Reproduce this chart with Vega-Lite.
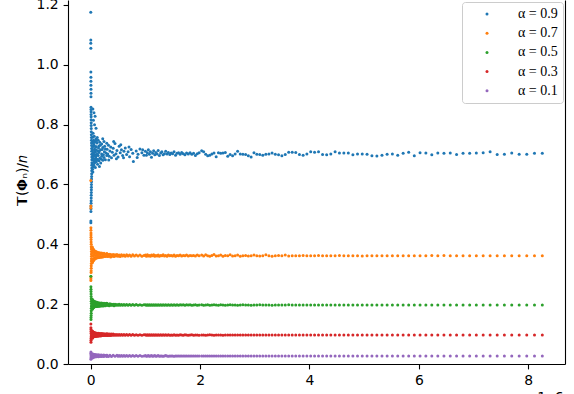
{
"$schema":"https://vega.github.io/schema/vega-lite/v6.json",
"width":497,"height":364,
"autosize":{"type":"none"},
"padding":{"left":68,"top":0,"right":9,"bottom":30},
"background":"white",
"usermeta":{"embedOptions":{"actions":false}},
"config":{"view":{"stroke":null},
"axis":{"domainColor":"black","domainWidth":1.1,"tickColor":"black","tickWidth":1.1,"tickSize":4.9,"labelFont":"DejaVu Sans","labelFontSize":13.9,"labelColor":"black","labelPadding":4.9,"grid":false,"labelFlush":false,"titleFont":"DejaVu Sans","titleFontSize":13.9,"titleColor":"black","titleFontWeight":"normal"}},
"data":{"values":[
{"a":"0.9","x":0.001,"y":1.176},{"a":"0.9","x":0.002,"y":1.083},{"a":"0.9","x":0.002,"y":1.072},{"a":"0.9","x":0.003,"y":1.055},{"a":"0.9","x":0.003,"y":0.976},{"a":"0.9","x":0.004,"y":0.958},{"a":"0.9","x":0.004,"y":0.945},{"a":"0.9","x":0.004,"y":0.932},{"a":"0.9","x":0.005,"y":0.918},{"a":"0.9","x":0.005,"y":0.905},{"a":"0.9","x":0.005,"y":0.893},{"a":"0.9","x":0.006,"y":0.858},{"a":"0.9","x":0.006,"y":0.851},{"a":"0.9","x":0.007,"y":0.843},{"a":"0.9","x":0.007,"y":0.834},{"a":"0.9","x":0.008,"y":0.826},{"a":"0.9","x":0.008,"y":0.816},{"a":"0.9","x":0.009,"y":0.806},{"a":"0.9","x":0.009,"y":0.797},{"a":"0.9","x":0.01,"y":0.787},{"a":"0.9","x":0.011,"y":0.776},{"a":"0.9","x":0.012,"y":0.766},{"a":"0.9","x":0.013,"y":0.757},{"a":"0.9","x":0.014,"y":0.748},{"a":"0.9","x":0.015,"y":0.739},{"a":"0.9","x":0.016,"y":0.73},{"a":"0.9","x":0.017,"y":0.72},{"a":"0.9","x":0.018,"y":0.711},{"a":"0.9","x":0.019,"y":0.701},{"a":"0.9","x":0.02,"y":0.692},{"a":"0.9","x":0.021,"y":0.683},{"a":"0.9","x":0.022,"y":0.673},{"a":"0.9","x":0.021,"y":0.664},{"a":"0.9","x":0.02,"y":0.655},{"a":"0.9","x":0.019,"y":0.646},{"a":"0.9","x":0.018,"y":0.636},{"a":"0.9","x":0.017,"y":0.627},{"a":"0.9","x":0.016,"y":0.618},{"a":"0.9","x":0.015,"y":0.609},{"a":"0.9","x":0.014,"y":0.6},{"a":"0.9","x":0.013,"y":0.591},{"a":"0.9","x":0.012,"y":0.582},{"a":"0.9","x":0.011,"y":0.573},{"a":"0.9","x":0.01,"y":0.564},{"a":"0.9","x":0.009,"y":0.555},{"a":"0.9","x":0.008,"y":0.546},{"a":"0.9","x":0.007,"y":0.537},{"a":"0.9","x":0.006,"y":0.528},{"a":"0.9","x":0.005,"y":0.519},{"a":"0.9","x":0.004,"y":0.51},{"a":"0.9","x":0.003,"y":0.478},{"a":"0.9","x":0.003,"y":0.472},
{"a":"0.9","x":0.04,"y":0.852},{"a":"0.9","x":0.06,"y":0.84},{"a":"0.9","x":0.08,"y":0.828},{"a":"0.9","x":0.05,"y":0.815},{"a":"0.9","x":0.07,"y":0.8},{"a":"0.9","x":0.097,"y":0.788},
{"a":"0.9","x":0.03,"y":0.742},{"a":"0.9","x":0.03,"y":0.668},{"a":"0.9","x":0.033,"y":0.715},{"a":"0.9","x":0.033,"y":0.651},{"a":"0.9","x":0.036,"y":0.758},{"a":"0.9","x":0.036,"y":0.689},{"a":"0.9","x":0.04,"y":0.727},{"a":"0.9","x":0.04,"y":0.642},{"a":"0.9","x":0.044,"y":0.771},{"a":"0.9","x":0.044,"y":0.698},{"a":"0.9","x":0.048,"y":0.706},{"a":"0.9","x":0.048,"y":0.659},{"a":"0.9","x":0.053,"y":0.748},{"a":"0.9","x":0.053,"y":0.681},{"a":"0.9","x":0.058,"y":0.733},{"a":"0.9","x":0.058,"y":0.664},{"a":"0.9","x":0.064,"y":0.761},{"a":"0.9","x":0.064,"y":0.695},{"a":"0.9","x":0.07,"y":0.719},{"a":"0.9","x":0.07,"y":0.672},{"a":"0.9","x":0.077,"y":0.744},{"a":"0.9","x":0.077,"y":0.686},{"a":"0.9","x":0.085,"y":0.708},{"a":"0.9","x":0.085,"y":0.657},{"a":"0.9","x":0.094,"y":0.752},{"a":"0.9","x":0.094,"y":0.693},{"a":"0.9","x":0.103,"y":0.726},{"a":"0.9","x":0.103,"y":0.676},{"a":"0.9","x":0.113,"y":0.739},{"a":"0.9","x":0.113,"y":0.684},{"a":"0.9","x":0.125,"y":0.712},{"a":"0.9","x":0.125,"y":0.668},{"a":"0.9","x":0.137,"y":0.748},{"a":"0.9","x":0.137,"y":0.697},{"a":"0.9","x":0.151,"y":0.729},{"a":"0.9","x":0.151,"y":0.679},{"a":"0.9","x":0.166,"y":0.741},{"a":"0.9","x":0.166,"y":0.688},{"a":"0.9","x":0.183,"y":0.716},{"a":"0.9","x":0.183,"y":0.672},{"a":"0.9","x":0.201,"y":0.735},{"a":"0.9","x":0.201,"y":0.694},{"a":"0.9","x":0.221,"y":0.724},{"a":"0.9","x":0.221,"y":0.681},{"a":"0.9","x":0.243,"y":0.744},{"a":"0.9","x":0.243,"y":0.69},{"a":"0.9","x":0.268,"y":0.719},{"a":"0.9","x":0.268,"y":0.683},{"a":"0.9","x":0.294,"y":0.738},{"a":"0.9","x":0.294,"y":0.697},
{"a":"0.9","x":0.04,"y":0.701},{"a":"0.9","x":0.07,"y":0.712},{"a":"0.9","x":0.1,"y":0.699},{"a":"0.9","x":0.15,"y":0.707},{"a":"0.9","x":0.2,"y":0.702},{"a":"0.9","x":0.25,"y":0.709},{"a":"0.9","x":0.12,"y":0.757},{"a":"0.9","x":0.16,"y":0.66},{"a":"0.9","x":0.22,"y":0.753},
{"a":"0.9","x":0.035,"y":0.728},{"a":"0.9","x":0.042,"y":0.684},{"a":"0.9","x":0.047,"y":0.739},{"a":"0.9","x":0.055,"y":0.702},{"a":"0.9","x":0.062,"y":0.676},{"a":"0.9","x":0.067,"y":0.741},{"a":"0.9","x":0.074,"y":0.697},{"a":"0.9","x":0.082,"y":0.727},{"a":"0.9","x":0.09,"y":0.679},{"a":"0.9","x":0.098,"y":0.716},{"a":"0.9","x":0.108,"y":0.747},{"a":"0.9","x":0.118,"y":0.701},{"a":"0.9","x":0.13,"y":0.683},{"a":"0.9","x":0.143,"y":0.722},{"a":"0.9","x":0.158,"y":0.712},{"a":"0.9","x":0.175,"y":0.731},{"a":"0.9","x":0.192,"y":0.685},{"a":"0.9","x":0.21,"y":0.717},{"a":"0.9","x":0.232,"y":0.699},{"a":"0.9","x":0.255,"y":0.728},{"a":"0.9","x":0.28,"y":0.705},
{"a":"0.9","x":0.3,"y":0.718},{"a":"0.9","x":0.312,"y":0.702},{"a":"0.9","x":0.325,"y":0.731},{"a":"0.9","x":0.338,"y":0.694},{"a":"0.9","x":0.351,"y":0.712},{"a":"0.9","x":0.365,"y":0.725},{"a":"0.9","x":0.38,"y":0.689},{"a":"0.9","x":0.395,"y":0.708},{"a":"0.9","x":0.411,"y":0.721},{"a":"0.9","x":0.427,"y":0.698},{"a":"0.9","x":0.444,"y":0.737},{"a":"0.9","x":0.462,"y":0.703},{"a":"0.9","x":0.48,"y":0.714},{"a":"0.9","x":0.5,"y":0.692},{"a":"0.9","x":0.52,"y":0.728},{"a":"0.9","x":0.54,"y":0.706},{"a":"0.9","x":0.562,"y":0.716},{"a":"0.9","x":0.584,"y":0.697},{"a":"0.9","x":0.608,"y":0.711},{"a":"0.9","x":0.632,"y":0.722},{"a":"0.9","x":0.657,"y":0.7},{"a":"0.9","x":0.684,"y":0.709},{"a":"0.9","x":0.711,"y":0.693},{"a":"0.9","x":0.739,"y":0.717},{"a":"0.9","x":0.769,"y":0.704},{"a":"0.9","x":0.78,"y":0.677},{"a":"0.9","x":0.832,"y":0.712},{"a":"0.9","x":0.865,"y":0.701},{"a":"0.9","x":0.9,"y":0.719},{"a":"0.9","x":0.936,"y":0.706},{"a":"0.9","x":0.973,"y":0.698},
{"a":"0.9","x":0.33,"y":0.682},{"a":"0.9","x":0.42,"y":0.744},{"a":"0.9","x":0.47,"y":0.686},{"a":"0.9","x":0.55,"y":0.733},{"a":"0.9","x":0.6,"y":0.689},{"a":"0.9","x":0.7,"y":0.725},{"a":"0.9","x":0.85,"y":0.69},{"a":"0.9","x":0.95,"y":0.716},
{"a":"0.9","x":1.0,"y":0.711},{"a":"0.9","x":1.018,"y":0.698},{"a":"0.9","x":1.036,"y":0.706},{"a":"0.9","x":1.054,"y":0.716},{"a":"0.9","x":1.073,"y":0.701},{"a":"0.9","x":1.092,"y":0.709},{"a":"0.9","x":1.111,"y":0.691},{"a":"0.9","x":1.131,"y":0.704},{"a":"0.9","x":1.151,"y":0.713},{"a":"0.9","x":1.171,"y":0.699},{"a":"0.9","x":1.192,"y":0.707},{"a":"0.9","x":1.213,"y":0.702},{"a":"0.9","x":1.234,"y":0.714},{"a":"0.9","x":1.256,"y":0.697},{"a":"0.9","x":1.279,"y":0.705},{"a":"0.9","x":1.301,"y":0.709},{"a":"0.9","x":1.324,"y":0.699},{"a":"0.9","x":1.348,"y":0.703},{"a":"0.9","x":1.371,"y":0.711},{"a":"0.9","x":1.396,"y":0.702},{"a":"0.9","x":1.42,"y":0.707},{"a":"0.9","x":1.446,"y":0.7},{"a":"0.9","x":1.471,"y":0.705},{"a":"0.9","x":1.497,"y":0.703},{"a":"0.9","x":1.524,"y":0.709},{"a":"0.9","x":1.551,"y":0.698},{"a":"0.9","x":1.578,"y":0.704},{"a":"0.9","x":1.606,"y":0.706},{"a":"0.9","x":1.635,"y":0.701},{"a":"0.9","x":1.663,"y":0.707},{"a":"0.9","x":1.693,"y":0.703},{"a":"0.9","x":1.723,"y":0.699},{"a":"0.9","x":1.753,"y":0.705},{"a":"0.9","x":1.784,"y":0.702},{"a":"0.9","x":1.816,"y":0.706},{"a":"0.9","x":1.848,"y":0.701},{"a":"0.9","x":1.881,"y":0.704},{"a":"0.9","x":1.914,"y":0.697},{"a":"0.9","x":1.948,"y":0.703},{"a":"0.9","x":1.982,"y":0.706},
{"a":"0.9","x":2.029,"y":0.713},{"a":"0.9","x":2.065,"y":0.709},{"a":"0.9","x":2.102,"y":0.701},{"a":"0.9","x":2.139,"y":0.696},{"a":"0.9","x":2.177,"y":0.698},{"a":"0.9","x":2.215,"y":0.702},{"a":"0.9","x":2.254,"y":0.705},{"a":"0.9","x":2.294,"y":0.693},{"a":"0.9","x":2.335,"y":0.706},{"a":"0.9","x":2.376,"y":0.704},{"a":"0.9","x":2.418,"y":0.705},{"a":"0.9","x":2.461,"y":0.707},{"a":"0.9","x":2.505,"y":0.694},{"a":"0.9","x":2.549,"y":0.7},{"a":"0.9","x":2.594,"y":0.696},{"a":"0.9","x":2.64,"y":0.702},{"a":"0.9","x":2.686,"y":0.711},{"a":"0.9","x":2.734,"y":0.702},{"a":"0.9","x":2.782,"y":0.701},{"a":"0.9","x":2.832,"y":0.7},{"a":"0.9","x":2.882,"y":0.696},{"a":"0.9","x":2.933,"y":0.692},{"a":"0.9","x":2.985,"y":0.706},{"a":"0.9","x":3.037,"y":0.701},{"a":"0.9","x":3.091,"y":0.7},{"a":"0.9","x":3.146,"y":0.698},{"a":"0.9","x":3.202,"y":0.701},{"a":"0.9","x":3.258,"y":0.702},{"a":"0.9","x":3.316,"y":0.705},{"a":"0.9","x":3.375,"y":0.701},{"a":"0.9","x":3.434,"y":0.699},{"a":"0.9","x":3.495,"y":0.696},{"a":"0.9","x":3.557,"y":0.7},{"a":"0.9","x":3.62,"y":0.708},{"a":"0.9","x":3.684,"y":0.708},{"a":"0.9","x":3.749,"y":0.707},{"a":"0.9","x":3.816,"y":0.7},{"a":"0.9","x":3.883,"y":0.698},{"a":"0.9","x":3.952,"y":0.702},{"a":"0.9","x":4.022,"y":0.709},{"a":"0.9","x":4.093,"y":0.708},{"a":"0.9","x":4.165,"y":0.709},{"a":"0.9","x":4.239,"y":0.7},{"a":"0.9","x":4.314,"y":0.699},{"a":"0.9","x":4.39,"y":0.702},{"a":"0.9","x":4.468,"y":0.709},{"a":"0.9","x":4.547,"y":0.705},{"a":"0.9","x":4.628,"y":0.705},{"a":"0.9","x":4.71,"y":0.705},{"a":"0.9","x":4.793,"y":0.699},{"a":"0.9","x":4.878,"y":0.702},{"a":"0.9","x":4.964,"y":0.702},{"a":"0.9","x":5.052,"y":0.701},{"a":"0.9","x":5.141,"y":0.696},{"a":"0.9","x":5.232,"y":0.695},{"a":"0.9","x":5.325,"y":0.698},{"a":"0.9","x":5.419,"y":0.701},{"a":"0.9","x":5.515,"y":0.702},{"a":"0.9","x":5.613,"y":0.698},{"a":"0.9","x":5.712,"y":0.704},{"a":"0.9","x":5.813,"y":0.708},{"a":"0.9","x":5.916,"y":0.696},{"a":"0.9","x":6.021,"y":0.706},{"a":"0.9","x":6.127,"y":0.705},{"a":"0.9","x":6.236,"y":0.699},{"a":"0.9","x":6.346,"y":0.705},{"a":"0.9","x":6.458,"y":0.704},{"a":"0.9","x":6.573,"y":0.705},{"a":"0.9","x":6.689,"y":0.7},{"a":"0.9","x":6.807,"y":0.704},{"a":"0.9","x":6.928,"y":0.704},{"a":"0.9","x":7.05,"y":0.705},{"a":"0.9","x":7.175,"y":0.706},{"a":"0.9","x":7.302,"y":0.709},{"a":"0.9","x":7.431,"y":0.7},{"a":"0.9","x":7.563,"y":0.701},{"a":"0.9","x":7.697,"y":0.705},{"a":"0.9","x":7.833,"y":0.701},{"a":"0.9","x":7.972,"y":0.701},{"a":"0.9","x":8.113,"y":0.704},{"a":"0.9","x":8.256,"y":0.704},

{"a":"0.7","x":0.002,"y":0.613},{"a":"0.7","x":0.003,"y":0.528},{"a":"0.7","x":0.003,"y":0.521},{"a":"0.7","x":0.004,"y":0.455},{"a":"0.7","x":0.004,"y":0.447},{"a":"0.7","x":0.005,"y":0.438},{"a":"0.7","x":0.005,"y":0.431},{"a":"0.7","x":0.006,"y":0.424},{"a":"0.7","x":0.007,"y":0.416},{"a":"0.7","x":0.008,"y":0.408},{"a":"0.7","x":0.009,"y":0.4},{"a":"0.7","x":0.01,"y":0.392},{"a":"0.7","x":0.011,"y":0.384},{"a":"0.7","x":0.012,"y":0.376},{"a":"0.7","x":0.013,"y":0.368},{"a":"0.7","x":0.014,"y":0.36},{"a":"0.7","x":0.013,"y":0.352},{"a":"0.7","x":0.012,"y":0.344},{"a":"0.7","x":0.011,"y":0.336},{"a":"0.7","x":0.01,"y":0.328},{"a":"0.7","x":0.009,"y":0.32},{"a":"0.7","x":0.008,"y":0.312},{"a":"0.7","x":0.007,"y":0.306},{"a":"0.7","x":0.005,"y":0.292},{"a":"0.7","x":0.004,"y":0.285},{"a":"0.7","x":0.003,"y":0.279},
{"a":"0.7","x":0.03,"y":0.391},{"a":"0.7","x":0.03,"y":0.338},{"a":"0.7","x":0.033,"y":0.372},{"a":"0.7","x":0.033,"y":0.349},{"a":"0.7","x":0.036,"y":0.386},{"a":"0.7","x":0.036,"y":0.342},{"a":"0.7","x":0.04,"y":0.378},{"a":"0.7","x":0.04,"y":0.346},{"a":"0.7","x":0.044,"y":0.384},{"a":"0.7","x":0.044,"y":0.352},{"a":"0.7","x":0.048,"y":0.374},{"a":"0.7","x":0.048,"y":0.345},{"a":"0.7","x":0.053,"y":0.381},{"a":"0.7","x":0.053,"y":0.35},{"a":"0.7","x":0.058,"y":0.376},{"a":"0.7","x":0.058,"y":0.348},{"a":"0.7","x":0.064,"y":0.379},{"a":"0.7","x":0.064,"y":0.353},{"a":"0.7","x":0.07,"y":0.373},{"a":"0.7","x":0.07,"y":0.351},{"a":"0.7","x":0.077,"y":0.377},{"a":"0.7","x":0.077,"y":0.354},{"a":"0.7","x":0.085,"y":0.372},{"a":"0.7","x":0.085,"y":0.352},{"a":"0.7","x":0.094,"y":0.376},{"a":"0.7","x":0.094,"y":0.355},{"a":"0.7","x":0.103,"y":0.371},{"a":"0.7","x":0.103,"y":0.354},{"a":"0.7","x":0.113,"y":0.374},{"a":"0.7","x":0.113,"y":0.356},{"a":"0.7","x":0.125,"y":0.37},{"a":"0.7","x":0.125,"y":0.355},{"a":"0.7","x":0.137,"y":0.373},{"a":"0.7","x":0.137,"y":0.357},{"a":"0.7","x":0.151,"y":0.369},{"a":"0.7","x":0.151,"y":0.356},{"a":"0.7","x":0.166,"y":0.372},{"a":"0.7","x":0.166,"y":0.358},{"a":"0.7","x":0.183,"y":0.369},{"a":"0.7","x":0.183,"y":0.357},{"a":"0.7","x":0.201,"y":0.371},{"a":"0.7","x":0.201,"y":0.358},{"a":"0.7","x":0.221,"y":0.368},{"a":"0.7","x":0.221,"y":0.358},{"a":"0.7","x":0.243,"y":0.37},{"a":"0.7","x":0.243,"y":0.359},{"a":"0.7","x":0.268,"y":0.367},{"a":"0.7","x":0.268,"y":0.359},{"a":"0.7","x":0.294,"y":0.369},{"a":"0.7","x":0.294,"y":0.36},
{"a":"0.7","x":0.04,"y":0.362},{"a":"0.7","x":0.06,"y":0.365},{"a":"0.7","x":0.08,"y":0.363},{"a":"0.7","x":0.11,"y":0.364},{"a":"0.7","x":0.14,"y":0.363},{"a":"0.7","x":0.18,"y":0.364},{"a":"0.7","x":0.23,"y":0.363},
{"a":"0.7","x":0.3,"y":0.368},{"a":"0.7","x":0.312,"y":0.359},{"a":"0.7","x":0.325,"y":0.366},{"a":"0.7","x":0.338,"y":0.36},{"a":"0.7","x":0.351,"y":0.367},{"a":"0.7","x":0.365,"y":0.358},{"a":"0.7","x":0.38,"y":0.365},{"a":"0.7","x":0.395,"y":0.36},{"a":"0.7","x":0.411,"y":0.366},{"a":"0.7","x":0.427,"y":0.359},{"a":"0.7","x":0.444,"y":0.365},{"a":"0.7","x":0.462,"y":0.361},{"a":"0.7","x":0.48,"y":0.366},{"a":"0.7","x":0.5,"y":0.36},{"a":"0.7","x":0.52,"y":0.364},{"a":"0.7","x":0.54,"y":0.359},{"a":"0.7","x":0.562,"y":0.365},{"a":"0.7","x":0.584,"y":0.361},{"a":"0.7","x":0.608,"y":0.364},{"a":"0.7","x":0.632,"y":0.36},{"a":"0.7","x":0.657,"y":0.365},{"a":"0.7","x":0.684,"y":0.361},{"a":"0.7","x":0.711,"y":0.364},{"a":"0.7","x":0.739,"y":0.36},{"a":"0.7","x":0.769,"y":0.365},{"a":"0.7","x":0.8,"y":0.361},{"a":"0.7","x":0.832,"y":0.364},{"a":"0.7","x":0.865,"y":0.361},{"a":"0.7","x":0.9,"y":0.364},{"a":"0.7","x":0.936,"y":0.36},{"a":"0.7","x":0.973,"y":0.363},
{"a":"0.7","x":1.0,"y":0.364},{"a":"0.7","x":1.018,"y":0.36},{"a":"0.7","x":1.036,"y":0.365},{"a":"0.7","x":1.054,"y":0.361},{"a":"0.7","x":1.073,"y":0.363},{"a":"0.7","x":1.092,"y":0.36},{"a":"0.7","x":1.111,"y":0.364},{"a":"0.7","x":1.131,"y":0.362},{"a":"0.7","x":1.151,"y":0.365},{"a":"0.7","x":1.171,"y":0.36},{"a":"0.7","x":1.192,"y":0.363},{"a":"0.7","x":1.213,"y":0.361},{"a":"0.7","x":1.234,"y":0.364},{"a":"0.7","x":1.256,"y":0.36},{"a":"0.7","x":1.279,"y":0.363},{"a":"0.7","x":1.301,"y":0.362},{"a":"0.7","x":1.324,"y":0.365},{"a":"0.7","x":1.348,"y":0.361},{"a":"0.7","x":1.371,"y":0.363},{"a":"0.7","x":1.396,"y":0.36},{"a":"0.7","x":1.42,"y":0.364},{"a":"0.7","x":1.446,"y":0.362},{"a":"0.7","x":1.471,"y":0.363},{"a":"0.7","x":1.497,"y":0.361},{"a":"0.7","x":1.524,"y":0.364},{"a":"0.7","x":1.551,"y":0.36},{"a":"0.7","x":1.578,"y":0.363},{"a":"0.7","x":1.606,"y":0.362},{"a":"0.7","x":1.635,"y":0.364},{"a":"0.7","x":1.663,"y":0.361},{"a":"0.7","x":1.693,"y":0.363},{"a":"0.7","x":1.723,"y":0.362},{"a":"0.7","x":1.753,"y":0.364},{"a":"0.7","x":1.784,"y":0.361},{"a":"0.7","x":1.816,"y":0.363},{"a":"0.7","x":1.848,"y":0.362},{"a":"0.7","x":1.881,"y":0.363},{"a":"0.7","x":1.914,"y":0.361},{"a":"0.7","x":1.948,"y":0.364},{"a":"0.7","x":1.982,"y":0.362},
{"a":"0.7","x":2.029,"y":0.364},{"a":"0.7","x":2.065,"y":0.361},{"a":"0.7","x":2.102,"y":0.365},{"a":"0.7","x":2.139,"y":0.362},{"a":"0.7","x":2.177,"y":0.36},{"a":"0.7","x":2.215,"y":0.363},{"a":"0.7","x":2.254,"y":0.366},{"a":"0.7","x":2.294,"y":0.361},{"a":"0.7","x":2.335,"y":0.362},{"a":"0.7","x":2.376,"y":0.364},{"a":"0.7","x":2.418,"y":0.36},{"a":"0.7","x":2.461,"y":0.363},{"a":"0.7","x":2.505,"y":0.362},{"a":"0.7","x":2.549,"y":0.365},{"a":"0.7","x":2.594,"y":0.361},{"a":"0.7","x":2.64,"y":0.362},{"a":"0.7","x":2.686,"y":0.364},{"a":"0.7","x":2.734,"y":0.36},{"a":"0.7","x":2.782,"y":0.362},{"a":"0.7","x":2.832,"y":0.363},{"a":"0.7","x":2.882,"y":0.361},{"a":"0.7","x":2.933,"y":0.362},{"a":"0.7","x":2.985,"y":0.364},{"a":"0.7","x":3.037,"y":0.362},{"a":"0.7","x":3.091,"y":0.361},{"a":"0.7","x":3.146,"y":0.362},{"a":"0.7","x":3.202,"y":0.365},{"a":"0.7","x":3.258,"y":0.362},{"a":"0.7","x":3.316,"y":0.36},{"a":"0.7","x":3.375,"y":0.362},{"a":"0.7","x":3.434,"y":0.363},{"a":"0.7","x":3.495,"y":0.362},{"a":"0.7","x":3.557,"y":0.364},{"a":"0.7","x":3.62,"y":0.361},{"a":"0.7","x":3.684,"y":0.362},{"a":"0.7","x":3.749,"y":0.362},{"a":"0.7","x":3.816,"y":0.362},{"a":"0.7","x":3.883,"y":0.363},{"a":"0.7","x":3.952,"y":0.362},{"a":"0.7","x":4.022,"y":0.362},{"a":"0.7","x":4.093,"y":0.362},{"a":"0.7","x":4.165,"y":0.363},{"a":"0.7","x":4.239,"y":0.362},{"a":"0.7","x":4.314,"y":0.362},{"a":"0.7","x":4.39,"y":0.362},{"a":"0.7","x":4.468,"y":0.362},{"a":"0.7","x":4.547,"y":0.363},{"a":"0.7","x":4.628,"y":0.362},{"a":"0.7","x":4.71,"y":0.362},{"a":"0.7","x":4.793,"y":0.362},{"a":"0.7","x":4.878,"y":0.362},{"a":"0.7","x":4.964,"y":0.361},{"a":"0.7","x":5.052,"y":0.362},{"a":"0.7","x":5.141,"y":0.362},{"a":"0.7","x":5.232,"y":0.362},{"a":"0.7","x":5.325,"y":0.362},{"a":"0.7","x":5.419,"y":0.362},{"a":"0.7","x":5.515,"y":0.362},{"a":"0.7","x":5.613,"y":0.362},{"a":"0.7","x":5.712,"y":0.362},{"a":"0.7","x":5.813,"y":0.362},{"a":"0.7","x":5.916,"y":0.362},{"a":"0.7","x":6.021,"y":0.362},{"a":"0.7","x":6.127,"y":0.362},{"a":"0.7","x":6.236,"y":0.363},{"a":"0.7","x":6.346,"y":0.362},{"a":"0.7","x":6.458,"y":0.363},{"a":"0.7","x":6.573,"y":0.362},{"a":"0.7","x":6.689,"y":0.362},{"a":"0.7","x":6.807,"y":0.362},{"a":"0.7","x":6.928,"y":0.362},{"a":"0.7","x":7.05,"y":0.362},{"a":"0.7","x":7.175,"y":0.362},{"a":"0.7","x":7.302,"y":0.362},{"a":"0.7","x":7.431,"y":0.362},{"a":"0.7","x":7.563,"y":0.362},{"a":"0.7","x":7.697,"y":0.362},{"a":"0.7","x":7.833,"y":0.362},{"a":"0.7","x":7.972,"y":0.362},{"a":"0.7","x":8.113,"y":0.362},{"a":"0.7","x":8.256,"y":0.362},

{"a":"0.5","x":0.003,"y":0.293},{"a":"0.5","x":0.004,"y":0.258},{"a":"0.5","x":0.005,"y":0.25},{"a":"0.5","x":0.006,"y":0.242},{"a":"0.5","x":0.007,"y":0.234},{"a":"0.5","x":0.008,"y":0.226},{"a":"0.5","x":0.009,"y":0.218},{"a":"0.5","x":0.01,"y":0.21},{"a":"0.5","x":0.011,"y":0.202},{"a":"0.5","x":0.012,"y":0.194},{"a":"0.5","x":0.011,"y":0.186},{"a":"0.5","x":0.01,"y":0.178},{"a":"0.5","x":0.009,"y":0.17},{"a":"0.5","x":0.008,"y":0.162},{"a":"0.5","x":0.006,"y":0.155},{"a":"0.5","x":0.005,"y":0.149},
{"a":"0.5","x":0.03,"y":0.216},{"a":"0.5","x":0.03,"y":0.183},{"a":"0.5","x":0.033,"y":0.207},{"a":"0.5","x":0.033,"y":0.189},{"a":"0.5","x":0.036,"y":0.213},{"a":"0.5","x":0.036,"y":0.186},{"a":"0.5","x":0.04,"y":0.209},{"a":"0.5","x":0.04,"y":0.19},{"a":"0.5","x":0.044,"y":0.212},{"a":"0.5","x":0.044,"y":0.188},{"a":"0.5","x":0.048,"y":0.206},{"a":"0.5","x":0.048,"y":0.19},{"a":"0.5","x":0.053,"y":0.21},{"a":"0.5","x":0.053,"y":0.191},{"a":"0.5","x":0.058,"y":0.207},{"a":"0.5","x":0.058,"y":0.19},{"a":"0.5","x":0.064,"y":0.209},{"a":"0.5","x":0.064,"y":0.192},{"a":"0.5","x":0.07,"y":0.206},{"a":"0.5","x":0.07,"y":0.191},{"a":"0.5","x":0.077,"y":0.208},{"a":"0.5","x":0.077,"y":0.192},{"a":"0.5","x":0.085,"y":0.205},{"a":"0.5","x":0.085,"y":0.192},{"a":"0.5","x":0.094,"y":0.207},{"a":"0.5","x":0.094,"y":0.193},{"a":"0.5","x":0.103,"y":0.204},{"a":"0.5","x":0.103,"y":0.192},{"a":"0.5","x":0.113,"y":0.206},{"a":"0.5","x":0.113,"y":0.193},{"a":"0.5","x":0.125,"y":0.204},{"a":"0.5","x":0.125,"y":0.193},{"a":"0.5","x":0.137,"y":0.205},{"a":"0.5","x":0.137,"y":0.194},{"a":"0.5","x":0.151,"y":0.203},{"a":"0.5","x":0.151,"y":0.193},{"a":"0.5","x":0.166,"y":0.204},{"a":"0.5","x":0.166,"y":0.194},{"a":"0.5","x":0.183,"y":0.203},{"a":"0.5","x":0.183,"y":0.194},{"a":"0.5","x":0.201,"y":0.204},{"a":"0.5","x":0.201,"y":0.195},{"a":"0.5","x":0.221,"y":0.202},{"a":"0.5","x":0.221,"y":0.194},{"a":"0.5","x":0.243,"y":0.203},{"a":"0.5","x":0.243,"y":0.195},{"a":"0.5","x":0.268,"y":0.202},{"a":"0.5","x":0.268,"y":0.195},{"a":"0.5","x":0.294,"y":0.203},{"a":"0.5","x":0.294,"y":0.196},
{"a":"0.5","x":0.04,"y":0.199},{"a":"0.5","x":0.06,"y":0.198},{"a":"0.5","x":0.08,"y":0.2},{"a":"0.5","x":0.11,"y":0.198},{"a":"0.5","x":0.14,"y":0.199},{"a":"0.5","x":0.18,"y":0.198},{"a":"0.5","x":0.23,"y":0.199},
{"a":"0.5","x":0.3,"y":0.201},{"a":"0.5","x":0.312,"y":0.196},{"a":"0.5","x":0.325,"y":0.2},{"a":"0.5","x":0.338,"y":0.195},{"a":"0.5","x":0.351,"y":0.201},{"a":"0.5","x":0.365,"y":0.196},{"a":"0.5","x":0.38,"y":0.2},{"a":"0.5","x":0.395,"y":0.196},{"a":"0.5","x":0.411,"y":0.2},{"a":"0.5","x":0.427,"y":0.195},{"a":"0.5","x":0.444,"y":0.2},{"a":"0.5","x":0.462,"y":0.196},{"a":"0.5","x":0.48,"y":0.199},{"a":"0.5","x":0.5,"y":0.196},{"a":"0.5","x":0.52,"y":0.2},{"a":"0.5","x":0.54,"y":0.196},{"a":"0.5","x":0.562,"y":0.199},{"a":"0.5","x":0.584,"y":0.196},{"a":"0.5","x":0.608,"y":0.199},{"a":"0.5","x":0.632,"y":0.196},{"a":"0.5","x":0.657,"y":0.199},{"a":"0.5","x":0.684,"y":0.196},{"a":"0.5","x":0.711,"y":0.199},{"a":"0.5","x":0.739,"y":0.196},{"a":"0.5","x":0.769,"y":0.199},{"a":"0.5","x":0.8,"y":0.196},{"a":"0.5","x":0.832,"y":0.199},{"a":"0.5","x":0.865,"y":0.196},{"a":"0.5","x":0.9,"y":0.198},{"a":"0.5","x":0.936,"y":0.196},{"a":"0.5","x":0.973,"y":0.198},
{"a":"0.5","x":1.0,"y":0.198},{"a":"0.5","x":1.018,"y":0.196},{"a":"0.5","x":1.036,"y":0.198},{"a":"0.5","x":1.054,"y":0.196},{"a":"0.5","x":1.073,"y":0.198},{"a":"0.5","x":1.092,"y":0.196},{"a":"0.5","x":1.111,"y":0.198},{"a":"0.5","x":1.131,"y":0.196},{"a":"0.5","x":1.151,"y":0.198},{"a":"0.5","x":1.171,"y":0.196},{"a":"0.5","x":1.192,"y":0.198},{"a":"0.5","x":1.213,"y":0.196},{"a":"0.5","x":1.234,"y":0.198},{"a":"0.5","x":1.256,"y":0.196},{"a":"0.5","x":1.279,"y":0.198},{"a":"0.5","x":1.301,"y":0.196},{"a":"0.5","x":1.324,"y":0.198},{"a":"0.5","x":1.348,"y":0.196},{"a":"0.5","x":1.371,"y":0.198},{"a":"0.5","x":1.396,"y":0.196},{"a":"0.5","x":1.42,"y":0.198},{"a":"0.5","x":1.446,"y":0.196},{"a":"0.5","x":1.471,"y":0.198},{"a":"0.5","x":1.497,"y":0.196},{"a":"0.5","x":1.524,"y":0.198},{"a":"0.5","x":1.551,"y":0.196},{"a":"0.5","x":1.578,"y":0.198},{"a":"0.5","x":1.606,"y":0.196},{"a":"0.5","x":1.635,"y":0.198},{"a":"0.5","x":1.663,"y":0.197},{"a":"0.5","x":1.693,"y":0.198},{"a":"0.5","x":1.723,"y":0.196},{"a":"0.5","x":1.753,"y":0.198},{"a":"0.5","x":1.784,"y":0.197},{"a":"0.5","x":1.816,"y":0.198},{"a":"0.5","x":1.848,"y":0.196},{"a":"0.5","x":1.881,"y":0.197},{"a":"0.5","x":1.914,"y":0.198},{"a":"0.5","x":1.948,"y":0.196},{"a":"0.5","x":1.982,"y":0.197},
{"a":"0.5","x":2.029,"y":0.198},{"a":"0.5","x":2.065,"y":0.196},{"a":"0.5","x":2.102,"y":0.197},{"a":"0.5","x":2.139,"y":0.198},{"a":"0.5","x":2.177,"y":0.196},{"a":"0.5","x":2.215,"y":0.197},{"a":"0.5","x":2.254,"y":0.198},{"a":"0.5","x":2.294,"y":0.197},{"a":"0.5","x":2.335,"y":0.196},{"a":"0.5","x":2.376,"y":0.198},{"a":"0.5","x":2.418,"y":0.197},{"a":"0.5","x":2.461,"y":0.196},{"a":"0.5","x":2.505,"y":0.197},{"a":"0.5","x":2.549,"y":0.198},{"a":"0.5","x":2.594,"y":0.197},{"a":"0.5","x":2.64,"y":0.197},{"a":"0.5","x":2.686,"y":0.196},{"a":"0.5","x":2.734,"y":0.197},{"a":"0.5","x":2.782,"y":0.198},{"a":"0.5","x":2.832,"y":0.197},{"a":"0.5","x":2.882,"y":0.197},{"a":"0.5","x":2.933,"y":0.196},{"a":"0.5","x":2.985,"y":0.197},{"a":"0.5","x":3.037,"y":0.197},{"a":"0.5","x":3.091,"y":0.198},{"a":"0.5","x":3.146,"y":0.197},{"a":"0.5","x":3.202,"y":0.197},{"a":"0.5","x":3.258,"y":0.197},{"a":"0.5","x":3.316,"y":0.196},{"a":"0.5","x":3.375,"y":0.197},{"a":"0.5","x":3.434,"y":0.197},{"a":"0.5","x":3.495,"y":0.197},{"a":"0.5","x":3.557,"y":0.197},{"a":"0.5","x":3.62,"y":0.198},{"a":"0.5","x":3.684,"y":0.197},{"a":"0.5","x":3.749,"y":0.197},{"a":"0.5","x":3.816,"y":0.197},{"a":"0.5","x":3.883,"y":0.197},{"a":"0.5","x":3.952,"y":0.197},{"a":"0.5","x":4.022,"y":0.197},{"a":"0.5","x":4.093,"y":0.197},{"a":"0.5","x":4.165,"y":0.197},{"a":"0.5","x":4.239,"y":0.197},{"a":"0.5","x":4.314,"y":0.197},{"a":"0.5","x":4.39,"y":0.197},{"a":"0.5","x":4.468,"y":0.197},{"a":"0.5","x":4.547,"y":0.197},{"a":"0.5","x":4.628,"y":0.197},{"a":"0.5","x":4.71,"y":0.197},{"a":"0.5","x":4.793,"y":0.197},{"a":"0.5","x":4.878,"y":0.197},{"a":"0.5","x":4.964,"y":0.197},{"a":"0.5","x":5.052,"y":0.197},{"a":"0.5","x":5.141,"y":0.197},{"a":"0.5","x":5.232,"y":0.197},{"a":"0.5","x":5.325,"y":0.197},{"a":"0.5","x":5.419,"y":0.197},{"a":"0.5","x":5.515,"y":0.197},{"a":"0.5","x":5.613,"y":0.197},{"a":"0.5","x":5.712,"y":0.197},{"a":"0.5","x":5.813,"y":0.197},{"a":"0.5","x":5.916,"y":0.197},{"a":"0.5","x":6.021,"y":0.197},{"a":"0.5","x":6.127,"y":0.197},{"a":"0.5","x":6.236,"y":0.197},{"a":"0.5","x":6.346,"y":0.197},{"a":"0.5","x":6.458,"y":0.197},{"a":"0.5","x":6.573,"y":0.197},{"a":"0.5","x":6.689,"y":0.197},{"a":"0.5","x":6.807,"y":0.197},{"a":"0.5","x":6.928,"y":0.197},{"a":"0.5","x":7.05,"y":0.197},{"a":"0.5","x":7.175,"y":0.197},{"a":"0.5","x":7.302,"y":0.197},{"a":"0.5","x":7.431,"y":0.197},{"a":"0.5","x":7.563,"y":0.197},{"a":"0.5","x":7.697,"y":0.197},{"a":"0.5","x":7.833,"y":0.197},{"a":"0.5","x":7.972,"y":0.197},{"a":"0.5","x":8.113,"y":0.197},{"a":"0.5","x":8.256,"y":0.197},

{"a":"0.3","x":0.003,"y":0.134},{"a":"0.3","x":0.004,"y":0.121},{"a":"0.3","x":0.005,"y":0.115},{"a":"0.3","x":0.006,"y":0.109},{"a":"0.3","x":0.008,"y":0.103},{"a":"0.3","x":0.01,"y":0.097},{"a":"0.3","x":0.008,"y":0.091},{"a":"0.3","x":0.007,"y":0.085},{"a":"0.3","x":0.006,"y":0.079},{"a":"0.3","x":0.005,"y":0.073},
{"a":"0.3","x":0.03,"y":0.11},{"a":"0.3","x":0.03,"y":0.086},{"a":"0.3","x":0.033,"y":0.104},{"a":"0.3","x":0.033,"y":0.09},{"a":"0.3","x":0.036,"y":0.108},{"a":"0.3","x":0.036,"y":0.088},{"a":"0.3","x":0.04,"y":0.105},{"a":"0.3","x":0.04,"y":0.091},{"a":"0.3","x":0.044,"y":0.107},{"a":"0.3","x":0.044,"y":0.09},{"a":"0.3","x":0.048,"y":0.104},{"a":"0.3","x":0.048,"y":0.092},{"a":"0.3","x":0.053,"y":0.106},{"a":"0.3","x":0.053,"y":0.091},{"a":"0.3","x":0.058,"y":0.104},{"a":"0.3","x":0.058,"y":0.092},{"a":"0.3","x":0.064,"y":0.105},{"a":"0.3","x":0.064,"y":0.093},{"a":"0.3","x":0.07,"y":0.103},{"a":"0.3","x":0.07,"y":0.092},{"a":"0.3","x":0.077,"y":0.104},{"a":"0.3","x":0.077,"y":0.093},{"a":"0.3","x":0.085,"y":0.103},{"a":"0.3","x":0.085,"y":0.093},{"a":"0.3","x":0.094,"y":0.104},{"a":"0.3","x":0.094,"y":0.094},{"a":"0.3","x":0.103,"y":0.102},{"a":"0.3","x":0.103,"y":0.093},{"a":"0.3","x":0.113,"y":0.103},{"a":"0.3","x":0.113,"y":0.094},{"a":"0.3","x":0.125,"y":0.102},{"a":"0.3","x":0.125,"y":0.094},{"a":"0.3","x":0.137,"y":0.103},{"a":"0.3","x":0.137,"y":0.094},{"a":"0.3","x":0.151,"y":0.101},{"a":"0.3","x":0.151,"y":0.094},{"a":"0.3","x":0.166,"y":0.102},{"a":"0.3","x":0.166,"y":0.095},{"a":"0.3","x":0.183,"y":0.101},{"a":"0.3","x":0.183,"y":0.094},{"a":"0.3","x":0.201,"y":0.102},{"a":"0.3","x":0.201,"y":0.095},{"a":"0.3","x":0.221,"y":0.101},{"a":"0.3","x":0.221,"y":0.095},{"a":"0.3","x":0.243,"y":0.101},{"a":"0.3","x":0.243,"y":0.095},{"a":"0.3","x":0.268,"y":0.1},{"a":"0.3","x":0.268,"y":0.095},{"a":"0.3","x":0.294,"y":0.101},{"a":"0.3","x":0.294,"y":0.095},
{"a":"0.3","x":0.04,"y":0.098},{"a":"0.3","x":0.06,"y":0.098},{"a":"0.3","x":0.08,"y":0.099},{"a":"0.3","x":0.11,"y":0.098},{"a":"0.3","x":0.14,"y":0.098},{"a":"0.3","x":0.18,"y":0.098},{"a":"0.3","x":0.23,"y":0.098},
{"a":"0.3","x":0.3,"y":0.1},{"a":"0.3","x":0.312,"y":0.095},{"a":"0.3","x":0.325,"y":0.1},{"a":"0.3","x":0.338,"y":0.095},{"a":"0.3","x":0.351,"y":0.1},{"a":"0.3","x":0.365,"y":0.095},{"a":"0.3","x":0.38,"y":0.1},{"a":"0.3","x":0.395,"y":0.096},{"a":"0.3","x":0.411,"y":0.1},{"a":"0.3","x":0.427,"y":0.096},{"a":"0.3","x":0.444,"y":0.099},{"a":"0.3","x":0.462,"y":0.096},{"a":"0.3","x":0.48,"y":0.099},{"a":"0.3","x":0.5,"y":0.096},{"a":"0.3","x":0.52,"y":0.099},{"a":"0.3","x":0.54,"y":0.096},{"a":"0.3","x":0.562,"y":0.099},{"a":"0.3","x":0.584,"y":0.096},{"a":"0.3","x":0.608,"y":0.099},{"a":"0.3","x":0.632,"y":0.096},{"a":"0.3","x":0.657,"y":0.099},{"a":"0.3","x":0.684,"y":0.096},{"a":"0.3","x":0.711,"y":0.099},{"a":"0.3","x":0.739,"y":0.096},{"a":"0.3","x":0.769,"y":0.099},{"a":"0.3","x":0.8,"y":0.096},{"a":"0.3","x":0.832,"y":0.098},{"a":"0.3","x":0.865,"y":0.096},{"a":"0.3","x":0.9,"y":0.098},{"a":"0.3","x":0.936,"y":0.096},{"a":"0.3","x":0.973,"y":0.098},
{"a":"0.3","x":1.0,"y":0.098},{"a":"0.3","x":1.018,"y":0.096},{"a":"0.3","x":1.036,"y":0.098},{"a":"0.3","x":1.054,"y":0.096},{"a":"0.3","x":1.073,"y":0.098},{"a":"0.3","x":1.092,"y":0.096},{"a":"0.3","x":1.111,"y":0.098},{"a":"0.3","x":1.131,"y":0.096},{"a":"0.3","x":1.151,"y":0.098},{"a":"0.3","x":1.171,"y":0.096},{"a":"0.3","x":1.192,"y":0.098},{"a":"0.3","x":1.213,"y":0.096},{"a":"0.3","x":1.234,"y":0.098},{"a":"0.3","x":1.256,"y":0.096},{"a":"0.3","x":1.279,"y":0.098},{"a":"0.3","x":1.301,"y":0.096},{"a":"0.3","x":1.324,"y":0.098},{"a":"0.3","x":1.348,"y":0.096},{"a":"0.3","x":1.371,"y":0.098},{"a":"0.3","x":1.396,"y":0.096},{"a":"0.3","x":1.42,"y":0.098},{"a":"0.3","x":1.446,"y":0.096},{"a":"0.3","x":1.471,"y":0.097},{"a":"0.3","x":1.497,"y":0.096},{"a":"0.3","x":1.524,"y":0.098},{"a":"0.3","x":1.551,"y":0.096},{"a":"0.3","x":1.578,"y":0.097},{"a":"0.3","x":1.606,"y":0.096},{"a":"0.3","x":1.635,"y":0.098},{"a":"0.3","x":1.663,"y":0.097},{"a":"0.3","x":1.693,"y":0.096},{"a":"0.3","x":1.723,"y":0.098},{"a":"0.3","x":1.753,"y":0.097},{"a":"0.3","x":1.784,"y":0.096},{"a":"0.3","x":1.816,"y":0.097},{"a":"0.3","x":1.848,"y":0.098},{"a":"0.3","x":1.881,"y":0.096},{"a":"0.3","x":1.914,"y":0.097},{"a":"0.3","x":1.948,"y":0.097},{"a":"0.3","x":1.982,"y":0.096},
{"a":"0.3","x":2.029,"y":0.097},{"a":"0.3","x":2.065,"y":0.097},{"a":"0.3","x":2.102,"y":0.096},{"a":"0.3","x":2.139,"y":0.097},{"a":"0.3","x":2.177,"y":0.098},{"a":"0.3","x":2.215,"y":0.097},{"a":"0.3","x":2.254,"y":0.096},{"a":"0.3","x":2.294,"y":0.097},{"a":"0.3","x":2.335,"y":0.097},{"a":"0.3","x":2.376,"y":0.097},{"a":"0.3","x":2.418,"y":0.096},{"a":"0.3","x":2.461,"y":0.097},{"a":"0.3","x":2.505,"y":0.097},{"a":"0.3","x":2.549,"y":0.097},{"a":"0.3","x":2.594,"y":0.097},{"a":"0.3","x":2.64,"y":0.097},{"a":"0.3","x":2.686,"y":0.097},{"a":"0.3","x":2.734,"y":0.097},{"a":"0.3","x":2.782,"y":0.097},{"a":"0.3","x":2.832,"y":0.097},{"a":"0.3","x":2.882,"y":0.097},{"a":"0.3","x":2.933,"y":0.097},{"a":"0.3","x":2.985,"y":0.097},{"a":"0.3","x":3.037,"y":0.097},{"a":"0.3","x":3.091,"y":0.097},{"a":"0.3","x":3.146,"y":0.097},{"a":"0.3","x":3.202,"y":0.097},{"a":"0.3","x":3.258,"y":0.097},{"a":"0.3","x":3.316,"y":0.097},{"a":"0.3","x":3.375,"y":0.097},{"a":"0.3","x":3.434,"y":0.097},{"a":"0.3","x":3.495,"y":0.097},{"a":"0.3","x":3.557,"y":0.097},{"a":"0.3","x":3.62,"y":0.097},{"a":"0.3","x":3.684,"y":0.097},{"a":"0.3","x":3.749,"y":0.097},{"a":"0.3","x":3.816,"y":0.097},{"a":"0.3","x":3.883,"y":0.097},{"a":"0.3","x":3.952,"y":0.097},{"a":"0.3","x":4.022,"y":0.097},{"a":"0.3","x":4.093,"y":0.097},{"a":"0.3","x":4.165,"y":0.097},{"a":"0.3","x":4.239,"y":0.097},{"a":"0.3","x":4.314,"y":0.097},{"a":"0.3","x":4.39,"y":0.097},{"a":"0.3","x":4.468,"y":0.097},{"a":"0.3","x":4.547,"y":0.097},{"a":"0.3","x":4.628,"y":0.097},{"a":"0.3","x":4.71,"y":0.097},{"a":"0.3","x":4.793,"y":0.097},{"a":"0.3","x":4.878,"y":0.097},{"a":"0.3","x":4.964,"y":0.097},{"a":"0.3","x":5.052,"y":0.097},{"a":"0.3","x":5.141,"y":0.097},{"a":"0.3","x":5.232,"y":0.097},{"a":"0.3","x":5.325,"y":0.097},{"a":"0.3","x":5.419,"y":0.097},{"a":"0.3","x":5.515,"y":0.097},{"a":"0.3","x":5.613,"y":0.097},{"a":"0.3","x":5.712,"y":0.097},{"a":"0.3","x":5.813,"y":0.097},{"a":"0.3","x":5.916,"y":0.097},{"a":"0.3","x":6.021,"y":0.097},{"a":"0.3","x":6.127,"y":0.097},{"a":"0.3","x":6.236,"y":0.097},{"a":"0.3","x":6.346,"y":0.097},{"a":"0.3","x":6.458,"y":0.097},{"a":"0.3","x":6.573,"y":0.097},{"a":"0.3","x":6.689,"y":0.097},{"a":"0.3","x":6.807,"y":0.097},{"a":"0.3","x":6.928,"y":0.097},{"a":"0.3","x":7.05,"y":0.097},{"a":"0.3","x":7.175,"y":0.097},{"a":"0.3","x":7.302,"y":0.097},{"a":"0.3","x":7.431,"y":0.097},{"a":"0.3","x":7.563,"y":0.097},{"a":"0.3","x":7.697,"y":0.097},{"a":"0.3","x":7.833,"y":0.097},{"a":"0.3","x":7.972,"y":0.097},{"a":"0.3","x":8.113,"y":0.097},{"a":"0.3","x":8.256,"y":0.097},

{"a":"0.1","x":0.004,"y":0.04},{"a":"0.1","x":0.005,"y":0.036},{"a":"0.1","x":0.007,"y":0.032},{"a":"0.1","x":0.009,"y":0.028},{"a":"0.1","x":0.007,"y":0.024},{"a":"0.1","x":0.005,"y":0.02},{"a":"0.1","x":0.004,"y":0.016},
{"a":"0.1","x":0.03,"y":0.034},{"a":"0.1","x":0.03,"y":0.02},{"a":"0.1","x":0.036,"y":0.031},{"a":"0.1","x":0.036,"y":0.023},{"a":"0.1","x":0.04,"y":0.032},{"a":"0.1","x":0.04,"y":0.022},{"a":"0.1","x":0.045,"y":0.027},{"a":"0.1","x":0.05,"y":0.033},{"a":"0.1","x":0.05,"y":0.023},{"a":"0.1","x":0.06,"y":0.031},{"a":"0.1","x":0.06,"y":0.023},{"a":"0.1","x":0.07,"y":0.032},{"a":"0.1","x":0.07,"y":0.024},{"a":"0.1","x":0.075,"y":0.028},{"a":"0.1","x":0.085,"y":0.031},{"a":"0.1","x":0.085,"y":0.024},{"a":"0.1","x":0.1,"y":0.031},{"a":"0.1","x":0.1,"y":0.024},{"a":"0.1","x":0.11,"y":0.027},{"a":"0.1","x":0.12,"y":0.03},{"a":"0.1","x":0.12,"y":0.025},{"a":"0.1","x":0.14,"y":0.031},{"a":"0.1","x":0.14,"y":0.024},{"a":"0.1","x":0.16,"y":0.027},{"a":"0.1","x":0.17,"y":0.03},{"a":"0.1","x":0.17,"y":0.025},{"a":"0.1","x":0.2,"y":0.03},{"a":"0.1","x":0.2,"y":0.025},{"a":"0.1","x":0.22,"y":0.027},{"a":"0.1","x":0.24,"y":0.03},{"a":"0.1","x":0.24,"y":0.025},{"a":"0.1","x":0.27,"y":0.028},{"a":"0.1","x":0.29,"y":0.029},{"a":"0.1","x":0.29,"y":0.025},
{"a":"0.1","x":0.3,"y":0.029},{"a":"0.1","x":0.325,"y":0.025},{"a":"0.1","x":0.351,"y":0.029},{"a":"0.1","x":0.38,"y":0.025},{"a":"0.1","x":0.411,"y":0.029},{"a":"0.1","x":0.444,"y":0.026},{"a":"0.1","x":0.48,"y":0.029},{"a":"0.1","x":0.5,"y":0.026},{"a":"0.1","x":0.52,"y":0.028},{"a":"0.1","x":0.54,"y":0.026},{"a":"0.1","x":0.562,"y":0.028},{"a":"0.1","x":0.584,"y":0.026},{"a":"0.1","x":0.608,"y":0.028},{"a":"0.1","x":0.632,"y":0.026},{"a":"0.1","x":0.657,"y":0.028},{"a":"0.1","x":0.684,"y":0.026},{"a":"0.1","x":0.711,"y":0.028},{"a":"0.1","x":0.739,"y":0.026},{"a":"0.1","x":0.769,"y":0.028},{"a":"0.1","x":0.8,"y":0.026},{"a":"0.1","x":0.832,"y":0.028},{"a":"0.1","x":0.865,"y":0.026},{"a":"0.1","x":0.9,"y":0.028},{"a":"0.1","x":0.936,"y":0.026},{"a":"0.1","x":0.973,"y":0.027},
{"a":"0.1","x":1.0,"y":0.028},{"a":"0.1","x":1.018,"y":0.026},{"a":"0.1","x":1.036,"y":0.027},{"a":"0.1","x":1.054,"y":0.028},{"a":"0.1","x":1.073,"y":0.026},{"a":"0.1","x":1.092,"y":0.027},{"a":"0.1","x":1.111,"y":0.028},{"a":"0.1","x":1.131,"y":0.026},{"a":"0.1","x":1.151,"y":0.027},{"a":"0.1","x":1.171,"y":0.028},{"a":"0.1","x":1.192,"y":0.026},{"a":"0.1","x":1.213,"y":0.027},{"a":"0.1","x":1.234,"y":0.028},{"a":"0.1","x":1.256,"y":0.026},{"a":"0.1","x":1.279,"y":0.027},{"a":"0.1","x":1.301,"y":0.027},{"a":"0.1","x":1.324,"y":0.026},{"a":"0.1","x":1.348,"y":0.027},{"a":"0.1","x":1.371,"y":0.028},{"a":"0.1","x":1.396,"y":0.027},{"a":"0.1","x":1.42,"y":0.026},{"a":"0.1","x":1.446,"y":0.027},{"a":"0.1","x":1.471,"y":0.027},{"a":"0.1","x":1.497,"y":0.027},{"a":"0.1","x":1.524,"y":0.026},{"a":"0.1","x":1.551,"y":0.027},{"a":"0.1","x":1.578,"y":0.027},{"a":"0.1","x":1.606,"y":0.027},{"a":"0.1","x":1.635,"y":0.027},{"a":"0.1","x":1.663,"y":0.027},{"a":"0.1","x":1.693,"y":0.027},{"a":"0.1","x":1.723,"y":0.027},{"a":"0.1","x":1.753,"y":0.027},{"a":"0.1","x":1.784,"y":0.027},{"a":"0.1","x":1.816,"y":0.027},{"a":"0.1","x":1.848,"y":0.027},{"a":"0.1","x":1.881,"y":0.027},{"a":"0.1","x":1.914,"y":0.027},{"a":"0.1","x":1.948,"y":0.027},{"a":"0.1","x":1.982,"y":0.027},
{"a":"0.1","x":2.029,"y":0.027},{"a":"0.1","x":2.065,"y":0.027},{"a":"0.1","x":2.102,"y":0.027},{"a":"0.1","x":2.139,"y":0.027},{"a":"0.1","x":2.177,"y":0.027},{"a":"0.1","x":2.215,"y":0.027},{"a":"0.1","x":2.254,"y":0.027},{"a":"0.1","x":2.294,"y":0.027},{"a":"0.1","x":2.335,"y":0.027},{"a":"0.1","x":2.376,"y":0.027},{"a":"0.1","x":2.418,"y":0.027},{"a":"0.1","x":2.461,"y":0.027},{"a":"0.1","x":2.505,"y":0.027},{"a":"0.1","x":2.549,"y":0.027},{"a":"0.1","x":2.594,"y":0.027},{"a":"0.1","x":2.64,"y":0.027},{"a":"0.1","x":2.686,"y":0.027},{"a":"0.1","x":2.734,"y":0.027},{"a":"0.1","x":2.782,"y":0.027},{"a":"0.1","x":2.832,"y":0.027},{"a":"0.1","x":2.882,"y":0.027},{"a":"0.1","x":2.933,"y":0.027},{"a":"0.1","x":2.985,"y":0.027},{"a":"0.1","x":3.037,"y":0.027},{"a":"0.1","x":3.091,"y":0.027},{"a":"0.1","x":3.146,"y":0.027},{"a":"0.1","x":3.202,"y":0.027},{"a":"0.1","x":3.258,"y":0.027},{"a":"0.1","x":3.316,"y":0.027},{"a":"0.1","x":3.375,"y":0.027},{"a":"0.1","x":3.434,"y":0.027},{"a":"0.1","x":3.495,"y":0.027},{"a":"0.1","x":3.557,"y":0.027},{"a":"0.1","x":3.62,"y":0.027},{"a":"0.1","x":3.684,"y":0.027},{"a":"0.1","x":3.749,"y":0.027},{"a":"0.1","x":3.816,"y":0.027},{"a":"0.1","x":3.883,"y":0.027},{"a":"0.1","x":3.952,"y":0.027},{"a":"0.1","x":4.022,"y":0.027},{"a":"0.1","x":4.093,"y":0.027},{"a":"0.1","x":4.165,"y":0.027},{"a":"0.1","x":4.239,"y":0.027},{"a":"0.1","x":4.314,"y":0.027},{"a":"0.1","x":4.39,"y":0.027},{"a":"0.1","x":4.468,"y":0.027},{"a":"0.1","x":4.547,"y":0.027},{"a":"0.1","x":4.628,"y":0.027},{"a":"0.1","x":4.71,"y":0.027},{"a":"0.1","x":4.793,"y":0.027},{"a":"0.1","x":4.878,"y":0.027},{"a":"0.1","x":4.964,"y":0.027},{"a":"0.1","x":5.052,"y":0.027},{"a":"0.1","x":5.141,"y":0.027},{"a":"0.1","x":5.232,"y":0.027},{"a":"0.1","x":5.325,"y":0.027},{"a":"0.1","x":5.419,"y":0.027},{"a":"0.1","x":5.515,"y":0.027},{"a":"0.1","x":5.613,"y":0.027},{"a":"0.1","x":5.712,"y":0.027},{"a":"0.1","x":5.813,"y":0.027},{"a":"0.1","x":5.916,"y":0.027},{"a":"0.1","x":6.021,"y":0.027},{"a":"0.1","x":6.127,"y":0.027},{"a":"0.1","x":6.236,"y":0.027},{"a":"0.1","x":6.346,"y":0.027},{"a":"0.1","x":6.458,"y":0.027},{"a":"0.1","x":6.573,"y":0.027},{"a":"0.1","x":6.689,"y":0.027},{"a":"0.1","x":6.807,"y":0.027},{"a":"0.1","x":6.928,"y":0.027},{"a":"0.1","x":7.05,"y":0.027},{"a":"0.1","x":7.175,"y":0.027},{"a":"0.1","x":7.302,"y":0.027},{"a":"0.1","x":7.431,"y":0.027},{"a":"0.1","x":7.563,"y":0.027},{"a":"0.1","x":7.697,"y":0.027},{"a":"0.1","x":7.833,"y":0.027},{"a":"0.1","x":7.972,"y":0.027},{"a":"0.1","x":8.113,"y":0.027},{"a":"0.1","x":8.256,"y":0.027}
]},
"layer":[
{"mark":{"type":"point","filled":true,"size":9,"opacity":1,"strokeWidth":0},
"encoding":{
"x":{"field":"x","type":"quantitative","scale":{"domain":[-0.415,8.671],"nice":false,"zero":false},"axis":{"values":[0,2,4,6,8],"format":"d","title":"1e6","titleAnchor":"end","titleAlign":"right","titleBaseline":"top","titleX":495,"titleY":26}},
"y":{"field":"y","type":"quantitative","scale":{"domain":[0,1.2166],"nice":false,"zero":false},"axis":{"values":[0,0.2,0.4,0.6,0.8,1.0,1.2],"format":".1f","title":"𝗧(𝝫ₙ)/𝑛","titleX":-46,"titleY":180,"titleBaseline":"middle","titleAngle":-90}},
"color":{"field":"a","type":"nominal","scale":{"domain":["0.9","0.7","0.5","0.3","0.1"],"range":["#1f77b4","#ff7f0e","#2ca02c","#d62728","#9467bd"]},
"legend":{"orient":"none","legendX":394,"legendY":2,"title":null,"labelExpr":"'α = ' + datum.label","labelFont":"Liberation Serif","labelFontSize":14,"labelColor":"black","symbolType":"circle","symbolSize":9,"symbolStrokeWidth":0,"strokeColor":"#cccccc","fillColor":"rgba(255,255,255,0.8)","cornerRadius":3,"padding":5,"rowPadding":5.2,"symbolOffset":13,"labelOffset":24}}
}},
{"data":{"values":[{"y":0}]},
"mark":{"type":"rule","opacity":0},
"encoding":{"y":{"field":"y","type":"quantitative","scale":{"domain":[0,1.2166],"nice":false,"zero":false},"axis":{"orient":"right","labels":false,"ticks":false,"title":null,"grid":false}}}}
],
"resolve":{"axis":{"y":"independent"}}
}
